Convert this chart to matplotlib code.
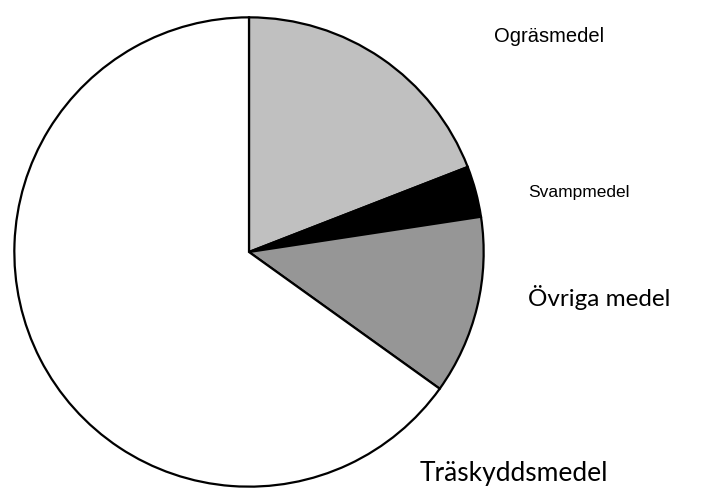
import matplotlib.pyplot as plt

labels = ['Ogräsmedel', 'Svampmedel', 'Övriga medel', 'Träskyddsmedel']
values = [19.1, 3.5, 12.3, 65.1]
colors = ['#c0c0c0', '#000000', '#969696', '#ffffff']

W, H = 702, 496
fig = plt.figure(figsize=(W / 100, H / 100), dpi=100)
cx, cy, r = 249, 252, 237
ax = fig.add_axes([(cx - r) / W, (H - cy - r) / H, 2 * r / W, 2 * r / H])
ax.pie(values, colors=colors, startangle=90, counterclock=False, radius=1,
       wedgeprops=dict(edgecolor='black', linewidth=1.6))
ax.set_xlim(-1.01, 1.01)
ax.set_ylim(-1.01, 1.01)
ax.axis('off')

# label positions in pixels (center x, center y), font, size
label_pos = [(549, 37, 'Liberation Sans', 14.5),
             (579, 193, 'Liberation Sans', 12.5),
             (599, 297, 'Lato', 17.5),
             (514, 474, 'Lato', 19)]
for lab, (x, y, fam, sz) in zip(labels, label_pos):
    fig.text(x / W, 1 - y / H, lab, ha='center', va='center',
             fontsize=sz, family=fam)

fig.savefig('out.png', dpi=100)
